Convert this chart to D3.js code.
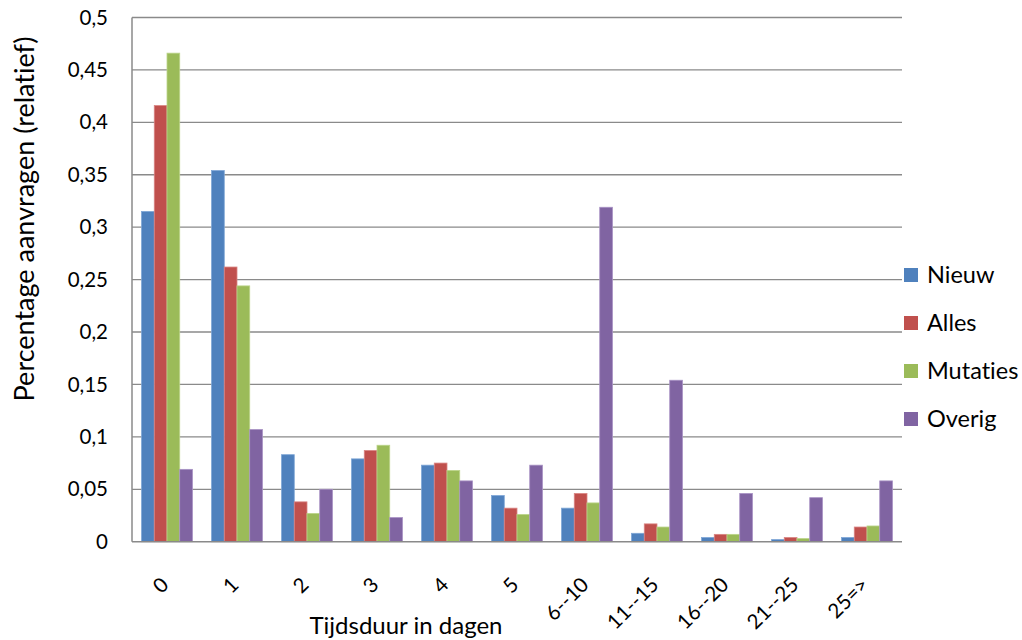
<!DOCTYPE html>
<html>
<head>
<meta charset="utf-8">
<script src="https://cdn.jsdelivr.net/npm/d3@7/dist/d3.min.js"></script>
<style>
  html, body { margin: 0; padding: 0; background: #ffffff; }
  svg { display: block; font-family: Lato, "Open Sans", sans-serif; font-variant-ligatures: none; font-feature-settings: "liga" 0, "clig" 0; }
</style>
</head>
<body>
<svg id="chart" width="1022" height="640"></svg>
<script>
// Durations (in days) between request and completion
const categories = ["0", "1", "2", "3", "4", "5", "6--10", "11--15", "16--20", "21--25", "25=>"];
const seriesNames = ["Nieuw", "Alles", "Mutaties", "Overig"];

// Relative share of requests per duration class
const nieuw    = [0.315, 0.354, 0.083, 0.079, 0.073, 0.044, 0.032, 0.008, 0.004, 0.002, 0.004];
const alles    = [0.416, 0.262, 0.038, 0.087, 0.075, 0.032, 0.046, 0.017, 0.007, 0.004, 0.014];
const mutaties = [0.466, 0.244, 0.027, 0.092, 0.068, 0.026, 0.037, 0.014, 0.007, 0.003, 0.015];
const overig   = [0.069, 0.107, 0.050, 0.023, 0.058, 0.073, 0.319, 0.154, 0.046, 0.042, 0.058];

const yTicks = [0, 0.05, 0.1, 0.15, 0.2, 0.25, 0.3, 0.35, 0.4, 0.45, 0.5];
const colors = ["#4F81BD", "#C0504D", "#9BBB59", "#8064A2"];
const strokes = ["#7ea6d6", "#d98583", "#bcd58b", "#a892c4"];

const seriesValues = [nieuw, alles, mutaties, overig];

const svg = d3.select("#chart");
const plot = { left: 132, right: 902, top: 17.5, bottom: 541.7 };

const nl = d3.formatLocale({ decimal: ",", thousands: ".", grouping: [3], currency: ["€", ""] });
const fmt = nl.format(".2~f");

const x0 = d3.scaleBand().domain(categories).range([plot.left, plot.right]).padding(0);
const x1 = d3.scaleBand().domain(seriesNames).range([0, x0.bandwidth()]).paddingInner(0).paddingOuter(0.75);
const y = d3.scaleLinear().domain([0, 0.5]).range([plot.bottom, plot.top]);

// Horizontal gridlines
svg.append("g")
  .selectAll("line")
  .data(yTicks.filter(d => d > 0))
  .join("line")
  .attr("x1", plot.left).attr("x2", plot.right)
  .attr("y1", d => y(d)).attr("y2", d => y(d))
  .attr("stroke", "#8a8a8a").attr("stroke-width", 1.3);

// Y axis tick labels
const yAxis = d3.axisLeft(y).tickValues(yTicks).tickFormat(fmt).tickSize(0).tickPadding(24);
const gy = svg.append("g").attr("transform", `translate(${plot.left},0)`).call(yAxis);
gy.select(".domain").remove();
gy.selectAll("text").attr("font-size", 20.5).attr("fill", "#000").attr("font-family", "Lato, 'Open Sans', sans-serif");

// Bars
const groups = svg.append("g")
  .selectAll("g")
  .data(categories)
  .join("g")
  .attr("transform", d => `translate(${x0(d)},0)`);

groups.selectAll("rect")
  .data((c, i) => seriesNames.map((s, k) => ({ s, k, v: seriesValues[k][i] })))
  .join("rect")
  .attr("x", d => x1(d.s))
  .attr("width", x1.bandwidth())
  .attr("y", d => y(d.v))
  .attr("height", d => y(0) - y(d.v))
  .attr("fill", d => colors[d.k])
  .attr("stroke", d => strokes[d.k])
  .attr("stroke-width", 0.8);

// Axis lines
svg.append("line")
  .attr("x1", plot.left).attr("x2", plot.left)
  .attr("y1", plot.top).attr("y2", plot.bottom)
  .attr("stroke", "#8a8a8a").attr("stroke-width", 1.5);
svg.append("line")
  .attr("x1", plot.left).attr("x2", plot.right)
  .attr("y1", plot.bottom).attr("y2", plot.bottom)
  .attr("stroke", "#8a8a8a").attr("stroke-width", 1.5);

// X axis category labels, rotated
svg.append("g")
  .selectAll("text")
  .data(categories)
  .join("text")
  .attr("transform", d => `translate(${x0(d) + x0.bandwidth() / 2 + 3},586) rotate(-45)`)
  .attr("text-anchor", "end")
  .attr("font-size", 20.5)
  .attr("fill", "#000")
  .text(d => d);

// Axis titles
svg.append("text")
  .attr("x", 406).attr("y", 634)
  .attr("text-anchor", "middle")
  .attr("font-size", 24)
  .attr("fill", "#000")
  .text("Tijdsduur in dagen");

svg.append("text")
  .attr("transform", "translate(34,219) rotate(-90)")
  .attr("text-anchor", "middle")
  .attr("font-size", 27)
  .attr("fill", "#000")
  .text("Percentage aanvragen (relatief)");

// Legend
const legend = svg.append("g")
  .selectAll("g")
  .data(seriesNames)
  .join("g")
  .attr("transform", (d, i) => `translate(904,${275 + i * 48})`);
legend.append("rect")
  .attr("x", 0).attr("y", -7)
  .attr("width", 14).attr("height", 14)
  .attr("fill", (d, i) => colors[i]);
legend.append("text")
  .attr("x", 23).attr("y", 0)
  .attr("dy", "0.35em")
  .attr("font-size", 23.5)
  .attr("fill", "#000")
  .text(d => d);
</script>
</body>
</html>
